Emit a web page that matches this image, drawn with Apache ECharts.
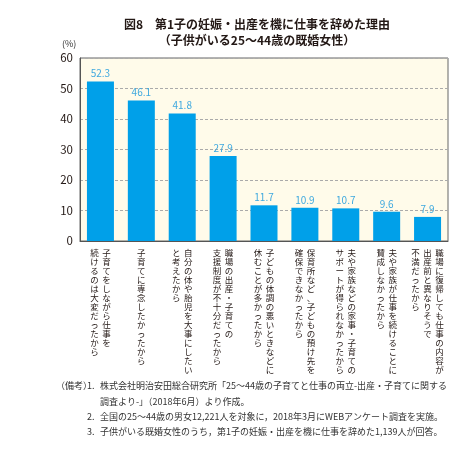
<!DOCTYPE html>
<html><head><meta charset="utf-8">
<script src="https://cdn.jsdelivr.net/npm/echarts@6/dist/echarts.min.js"></script>
<style>html,body{margin:0;padding:0;background:#fff}#c{width:474px;height:451px}</style>
</head><body><div id="c"></div>
<script>
const titleLines = ['図8　第1子の妊娠・出産を機に仕事を辞めた理由', '（子供がいる25～44歳の既婚女性）'];
const categories = [
  '子育てをしながら仕事を\n続けるのは大変だったから',
  '子育てに専念したかったから',
  '自分の体や胎児を大事にしたい\nと考えたから',
  '職場の出産・子育ての\n支援制度が不十分だったから',
  '子どもの体調の悪いときなどに\n休むことが多かったから',
  '保育所など、子どもの預け先を\n確保できなかったから',
  '夫や家族などの家事・子育ての\nサポートが得られなかったから',
  '夫や家族が仕事を続けることに\n賛成しなかったから',
  '職場に復帰しても仕事の内容が\n出産前と異なりそうで\n不満だったから'
];
const values = [52.3, 46.1, 41.8, 27.9, 11.7, 10.9, 10.7, 9.6, 7.9];
const yTicks = [0, 10, 20, 30, 40, 50, 60];
const unitLabel = '(%)';
const notes = [
  ['（備考）', '1.', '株式会社明治安田総合研究所「25～44歳の子育てと仕事の両立-出産・子育てに関する'],
  ['', '', '調査より-」（2018年6月）より作成。'],
  ['', '2.', '全国の25～44歳の男女12,221人を対象に，2018年3月にWEBアンケート調査を実施。'],
  ['', '3.', '子供がいる既婚女性のうち，第1子の妊娠・出産を機に仕事を辞めた1,139人が回答。']
];

const FONT = '"Noto Sans CJK JP", "Noto Sans", sans-serif';
function vertical(value) {
  const cols = value.split('\n').map(s => Array.from(s));
  const n = Math.max(...cols.map(c => c.length));
  const lines = [];
  for (let i = 0; i < n; i++) {
    let line = '';
    for (let j = cols.length - 1; j >= 0; j--) {
      const ch = cols[j][i];
      line += '{c|' + (ch || '　') + '}';
    }
    lines.push(line);
  }
  return lines.join('\n');
}

const noteGraphics = [];
const noteTops = [381, 397, 412, 427];
notes.forEach((row, i) => {
  if (row[0]) noteGraphics.push({type:'text', left: 56, top: noteTops[i], style:{text: row[0], font: '9px ' + FONT, fill:'#333'}});
  if (row[1]) noteGraphics.push({type:'text', left: 87, top: noteTops[i], style:{text: row[1], font: '9px ' + FONT, fill:'#333'}});
  noteGraphics.push({type:'text', left: 100, top: noteTops[i], style:{text: row[2], font: '9px ' + FONT, fill:'#333'}});
});
noteGraphics.push({type:'text', left: 62, top: 39, style:{text: unitLabel, font: '9px ' + FONT, fill:'#333'}});

const chart = echarts.init(document.getElementById('c'), null, {renderer:'canvas'});
chart.setOption({
  backgroundColor: '#fff',
  animation: false,
  title: {
    text: titleLines.join('\n'),
    left: 252, top: 11, textAlign: 'center',
    textStyle: {fontFamily: FONT, fontSize: 12, fontWeight: 'bold', color: '#231815', lineHeight: 16}
  },
  grid: {left: 80, top: 58, width: 368, height: 183, show: true, backgroundColor: '#FFFBEA', borderColor: '#666', borderWidth: 1},
  xAxis: {
    type: 'category', data: categories,
    axisLine: {lineStyle: {color: '#555'}},
    axisTick: {inside: true, length: 4, lineStyle: {color: '#555'}},
    axisLabel: {
      interval: 0, margin: 7, formatter: vertical,
      rich: {c: {width: 12, height: 9, align: 'center', verticalAlign: 'middle', fontSize: 8.5, lineHeight: 9, color: '#231815', fontFamily: FONT}}
    }
  },
  yAxis: {
    type: 'value', min: yTicks[0], max: yTicks[yTicks.length - 1], interval: 10,
    axisLine: {show: true, lineStyle: {color: '#555'}},
    axisTick: {show: false},
    axisLabel: {fontFamily: FONT, fontSize: 11.5, color: '#231815', margin: 7},
    splitLine: {lineStyle: {type: [3, 2], color: '#aaa'}}
  },
  series: [{
    type: 'bar', data: values, barWidth: 27,
    itemStyle: {color: '#00A0E9'},
    label: {show: true, position: 'top', distance: 3, fontFamily: FONT, fontSize: 10, color: '#3FA9DF', formatter: p => p.value.toFixed(1)}
  }],
  graphic: noteGraphics
});
</script></body></html>
